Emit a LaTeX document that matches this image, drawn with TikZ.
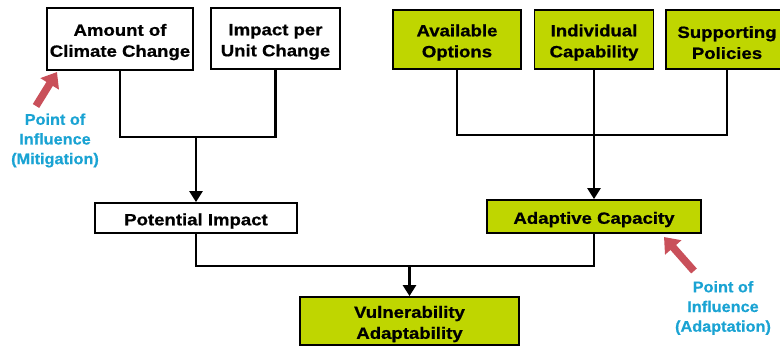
\documentclass[tikz,border=0pt]{standalone}
\usepackage{fontspec}
\setmainfont{Liberation Sans}
\newfontfamily\boxfont{Liberation Sans}[FakeStretch=1.14, BoldFeatures={FakeBold=0.8}]
\newfontfamily\inffont{Liberation Sans}[FakeStretch=1.05, BoldFeatures={FakeBold=0.6}]
\usetikzlibrary{arrows.meta}
\definecolor{boxgreen}{HTML}{BFD600}
\definecolor{infblue}{HTML}{1AA3D3}
\definecolor{infred}{HTML}{C9505A}
% strut that sets the height of a box's first text line
\newcommand{\tstrut}{\rule{0pt}{18pt}}
\tikzset{
  plainbox/.style={draw=black, line width=1.8pt, fill=white, inner sep=0pt, align=center,
    font=\boxfont\fontsize{16.3}{21}\selectfont\bfseries},
  greenbox/.style={plainbox, fill=boxgreen},
  link/.style={line width=2.6pt, line cap=rect},
  linkarrow/.style={line width=2.6pt, -{Triangle[width=13pt,length=11pt]}},
  influence/.style={line width=7.5pt, infred, -{Triangle[width=21pt,length=14pt]}},
  inflabel/.style={text=infblue, align=center, inner sep=0pt,
    font=\inffont\fontsize{15.5}{19.7}\selectfont\bfseries}
}
\begin{document}
\begin{tikzpicture}[x=1pt, y=-1pt]
  \useasboundingbox (0,0) rectangle (780,347);

  % top row: contributors to potential impact
  \node[plainbox, minimum width=146pt, minimum height=62pt] (amt) at (120,39) {\tstrut Amount of\\Climate Change};
  \node[plainbox, minimum width=129pt, minimum height=61pt] (ipu) at (275.5,38.5) {\tstrut Impact per\\Unit Change};

  % top row: contributors to adaptive capacity
  \node[greenbox, minimum width=128pt, minimum height=59pt] (avo) at (457,39.5) {\tstrut Available\\Options};
  \node[greenbox, minimum width=119pt, minimum height=59pt] (ind) at (594,39.5) {\tstrut Individual\\Capability};
  \node[greenbox, minimum width=122pt, minimum height=59pt] (sup) at (727,39.5) {\tstrut Supporting\\Policies};

  % middle row
  \node[plainbox, minimum width=202pt, minimum height=30pt] (pot) at (196,218) {\tstrut Potential Impact};
  \node[greenbox, minimum width=214pt, minimum height=33pt] (ada) at (594,216.5) {\tstrut Adaptive Capacity};

  % result
  \node[greenbox, minimum width=219pt, minimum height=48pt] (vul) at (409.5,321) {\tstrut Vulnerability\\Adaptability};

  % junction points
  \coordinate (j1) at (196,137);
  \coordinate (j2) at (594,135);
  \coordinate (j3) at (409.5,266);

  % connectors
  \draw[link] (amt.south) |- (j1) -| (ipu.south);
  \draw[linkarrow] (j1) -- (pot.north);
  \draw[link] (avo.south) |- (j2) -| (sup.south);
  \draw[link] (ind.south) -- (j2);
  \draw[linkarrow] (j2) -- (ada.north);
  \draw[link] (pot.south) |- (j3) -| (ada.south);
  \draw[linkarrow] (j3) -- (vul.north);

  % points of influence
  \coordinate (mtail) at (36,106);
  \coordinate (mtip) at (57,72);
  \draw[influence] (mtail) -- (mtip);
  \node[inflabel] (mlab) at (55,140.5) {Point of\\Influence\\(Mitigation)};

  \coordinate (atail) at (694,271);
  \coordinate (atip) at (664,237);
  \draw[influence] (atail) -- (atip);
  \node[inflabel] (alab) at (723,308) {Point of\\Influence\\(Adaptation)};
\end{tikzpicture}
\end{document}
